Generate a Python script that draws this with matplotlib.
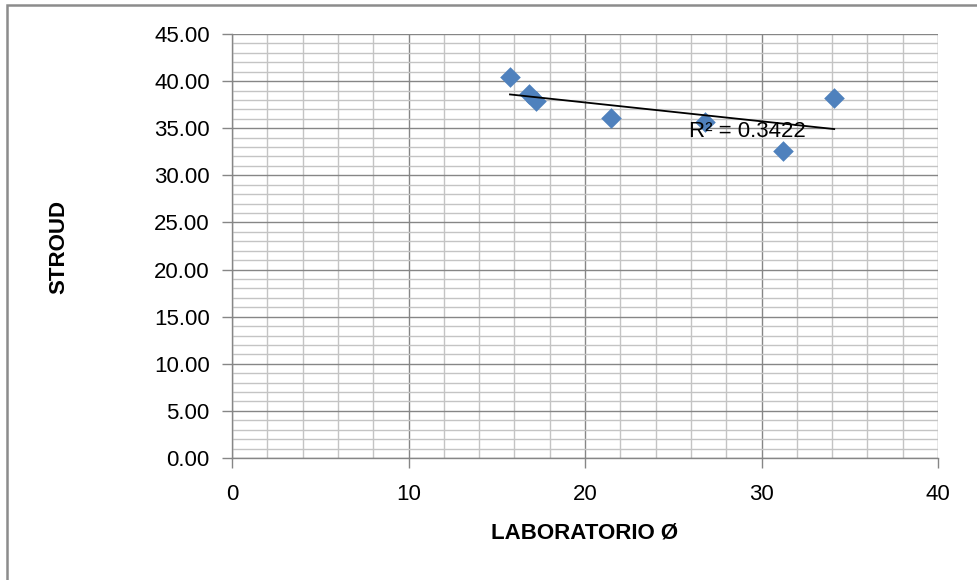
import numpy as np
import matplotlib
matplotlib.use("Agg")
import matplotlib.pyplot as plt
from matplotlib.ticker import MultipleLocator, FormatStrFormatter
from matplotlib.patches import Rectangle

# Data
laboratorio = [15.75, 16.8, 17.2, 21.5, 26.8, 31.24, 34.12]
stroud = [40.45, 38.6, 37.85, 36.06, 35.7, 32.6, 38.2]
r2_label = "R² = 0.3422"
x_label = "LABORATORIO Ø"
y_label = "STROUD"

plt.rcParams['font.family'] = ['Liberation Sans', 'DejaVu Sans']

fig = plt.figure(figsize=(9.78, 5.8), dpi=100)
W, H = 978, 580
ax = fig.add_axes([232 / W, 1 - 458 / H, (938 - 232) / W, (458 - 34) / H])

# outer border of chart area
fig.patches.append(Rectangle((7 / W, -0.1), 1.2, 1 - 5 / H + 0.1, transform=fig.transFigure,
                             fill=False, edgecolor='#8c8c8c', linewidth=1.8))

ax.set_xlim(0, 40)
ax.set_ylim(0, 45)
ax.xaxis.set_major_locator(MultipleLocator(10))
ax.xaxis.set_minor_locator(MultipleLocator(2))
ax.yaxis.set_major_locator(MultipleLocator(5))
ax.yaxis.set_minor_locator(MultipleLocator(1))
ax.yaxis.set_major_formatter(FormatStrFormatter('%.2f'))

ax.grid(which='minor', color='#c4c4c4', linewidth=1.0)
ax.grid(which='major', color='#868686', linewidth=1.0)
ax.set_axisbelow(True)

for s in ['top', 'right']:
    ax.spines[s].set_visible(False)
for s in ['left', 'bottom']:
    ax.spines[s].set_color('#868686')
    ax.spines[s].set_linewidth(1.0)

ax.tick_params(which='major', direction='out', length=7, width=1.0, color='#868686',
               labelsize=16, labelcolor='black')
ax.tick_params(axis='x', which='major', pad=12)
ax.tick_params(axis='y', which='major', pad=9)
ax.tick_params(which='minor', length=0)

ax.scatter(laboratorio, stroud, marker='D', s=10.5 ** 2, color='#4F81BD', zorder=3, linewidths=0)

# linear trendline
xs = np.array(laboratorio)
ys = np.array(stroud)
m, b = np.polyfit(xs, ys, 1)
xl = np.array([xs.min(), xs.max()])
ax.plot(xl, m * xl + b, color='black', linewidth=1.3, zorder=4)

ax.text(25.9, 34.7, r2_label, fontsize=16, ha='left', va='center', zorder=5)

fig.text(585 / W, 1 - 533 / H, x_label, fontsize=16, fontweight='bold', ha='center', va='center')
fig.text(59 / W, 1 - 247 / H, y_label, fontsize=16, fontweight='bold', ha='center', va='center',
         rotation=90)

fig.savefig('out.png', dpi=100)
